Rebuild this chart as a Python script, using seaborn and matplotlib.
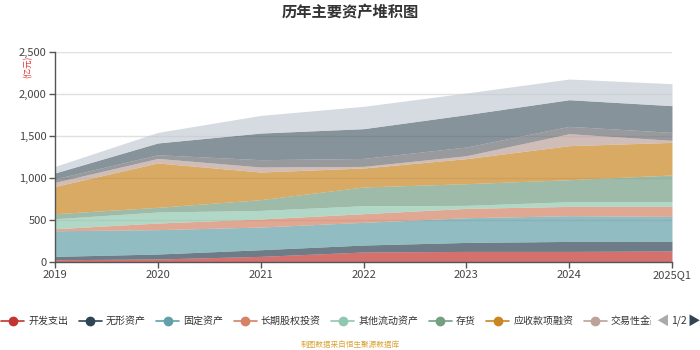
import matplotlib.pyplot as plt
import matplotlib.ticker as mticker
from matplotlib.lines import Line2D
from matplotlib.transforms import Bbox, TransformedBbox
import numpy as np
import pandas as pd
import seaborn as sns

sns.set_theme(style="whitegrid")
plt.rcParams['font.family'] = ['Noto Sans CJK SC', 'DejaVu Sans']

years = ["2019", "2020", "2021", "2022", "2023", "2024", "2025Q1"]
series_names = ["开发支出", "无形资产", "固定资产", "长期股权投资", "其他流动资产", "存货",
                "应收款项融资", "交易性金融资产", "其他非流动资产", "应收账款", "货币资金"]
kaifa = [27, 36, 67, 119, 126, 126, 131]
wuxing = [40, 59, 79, 83, 107, 119, 114]
guding = [305, 290, 270, 270, 294, 306, 298]
changqi = [24, 79, 96, 103, 111, 111, 119]
qita_liudong = [119, 131, 102, 95, 36, 56, 56]
cunhuo = [60, 56, 128, 223, 258, 262, 318]
yingshou_rongzi = [325, 528, 329, 226, 298, 405, 388]
jiaoyi = [48, 54, 60, 19, 35, 142, 24]
qita_feiliudong = [42, 44, 87, 95, 104, 88, 95]
yingshou = [70, 140, 317, 354, 385, 317, 318]
huobi = [78, 126, 210, 266, 258, 246, 262]

values = [kaifa, wuxing, guding, changqi, qita_liudong, cunhuo,
          yingshou_rongzi, jiaoyi, qita_feiliudong, yingshou, huobi]
df = pd.DataFrame(dict(zip(series_names, values)), index=years)

colors = sns.color_palette(['#c23531', '#2f4554', '#61a0a8', '#d48265', '#91c7ae', '#749f83',
                            '#ca8622', '#bda29a', '#6e7074', '#546570', '#c4ccd3'])

fig = plt.figure(figsize=(7, 3.5), dpi=100)
ax = fig.add_axes([55 / 700, 1 - 262 / 350, 617 / 700, 210 / 350])

x = np.arange(len(years))
ax.stackplot(x, df.T.values, colors=colors, alpha=0.7, linewidth=0)

ax.set_xlim(0, len(years) - 1)
ax.set_ylim(0, 2500)
ax.set_xticks(x)
ax.set_xticklabels(years)
ax.yaxis.set_major_locator(mticker.MultipleLocator(500))
ax.yaxis.set_major_formatter(mticker.FuncFormatter(lambda v, p: f"{int(v):,}"))
ax.grid(axis='x', visible=False)
ax.grid(axis='y', color='#e0e0e0', linewidth=1)
ax.set_facecolor('white')
for side in ['top', 'right']:
    ax.spines[side].set_visible(False)
for side in ['left', 'bottom']:
    ax.spines[side].set_visible(True)
    ax.spines[side].set_color('#555555')
    ax.spines[side].set_linewidth(1)
ax.tick_params(axis='both', which='major', labelsize=8, colors='#555555', length=4,
               width=1, direction='out', pad=2)
for lab in ax.get_xticklabels() + ax.get_yticklabels():
    lab.set_color('#444444')
ax.xaxis.set_ticks_position('bottom')
ax.yaxis.set_ticks_position('left')

fig.text(0.5, 1 - 12 / 350, "历年主要资产堆积图", ha='center', va='center',
         fontsize=11, fontweight='bold', color='#333333')
fig.text(28 / 700, 1 - 67 / 350, "(亿元)", ha='center', va='center', rotation=90,
         fontsize=6, color='#e03030')

handles = [Line2D([0], [0], color=c, lw=1.2, marker='o', markersize=6) for c in colors[:8]]
leg = fig.legend(handles, series_names[:8], loc='center left',
                 bbox_to_anchor=(-0.004, 1 - 321 / 350), ncol=8, frameon=False,
                 fontsize=7.2, handlelength=2.3, handletextpad=0.4, columnspacing=1.05,
                 borderaxespad=0)
for t in leg.get_texts():
    t.set_color('#333333')
clip = TransformedBbox(Bbox([[0, 0], [651 / 700, 1]]), fig.transFigure)
last = leg.get_texts()[-1]
last.set_clip_box(clip)
last.set_clip_on(True)

fig.text(662 / 700, 1 - 321 / 350, "◀", ha='center', va='center', fontsize=9, color='#aaaaaa')
fig.text(679 / 700, 1 - 321 / 350, "1/2", ha='center', va='center', fontsize=7.5, color='#333333')
fig.text(694 / 700, 1 - 321 / 350, "▶", ha='center', va='center', fontsize=9, color='#2f4554')

fig.text(0.5, 1 - 345 / 350, "制图数据来自恒生聚源数据库", ha='center', va='center',
         fontsize=5.5, color='#d9a43a')

fig.savefig('out.png', dpi=100)
